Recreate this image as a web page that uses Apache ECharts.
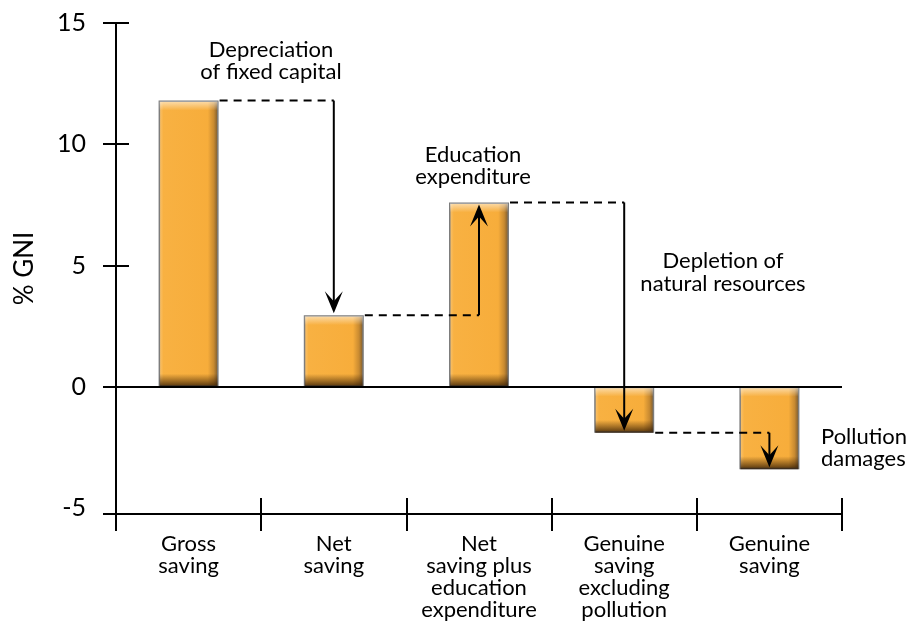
<!DOCTYPE html>
<html>
<head>
<meta charset="utf-8">
<script src="https://cdn.jsdelivr.net/npm/echarts@6/dist/echarts.min.js"></script>
<style>
html,body{margin:0;padding:0;background:#fff;}
#chart{width:906px;height:624px;}
</style>
</head>
<body>
<div id="chart"></div>
<script>
// ---- data ----
const categories = ['Gross\nsaving', 'Net\nsaving', 'Net\nsaving plus\neducation\nexpenditure', 'Genuine\nsaving\nexcluding\npollution', 'Genuine\nsaving'];
const values = [11.8, 2.95, 7.6, -1.9, -3.4];
const yTickLabels = [-5, 0, 5, 10, 15];
const annotations = ['Depreciation\nof fixed capital', 'Education\nexpenditure', 'Depletion of\nnatural resources', 'Pollution\ndamages'];
const yAxisName = '% GNI';

// ---- layout / style ----
const FONT = 'Lato, "Open Sans", sans-serif';
const BAR_W = 60;
const Y_MIN = -5.25, Y_MAX = 15;

const barData = values.map((v, i) => [i, v]);
const connectorData = values.slice(0, -1).map((v, i) => [i, v, i + 1, values[i + 1]]);

const chart = echarts.init(document.getElementById('chart'), null, {renderer: 'canvas'});

const commonY = {
  type: 'value', min: Y_MIN, max: Y_MAX, position: 'left',
  axisLine: {show: true, onZero: false, lineStyle: {color: '#000', width: 2}},
  splitLine: {show: false}
};
const commonX = {
  type: 'category', data: categories, position: 'bottom', boundaryGap: true,
  axisLine: {show: true, onZero: false, lineStyle: {color: '#000', width: 2}}
};

const option = {
  animation: false,
  backgroundColor: '#fff',
  grid: {left: 116, right: 64, top: 23, bottom: 110, containLabel: false},
  xAxis: [
    Object.assign({}, commonX, {
      axisTick: {show: true, inside: false, length: 17, lineStyle: {color: '#000', width: 2}},
      axisLabel: {show: true, color: '#000', fontFamily: FONT, fontSize: 22, lineHeight: 22, margin: 19, interval: 0}
    }),
    Object.assign({}, commonX, {
      axisTick: {show: true, inside: true, length: 16, lineStyle: {color: '#000', width: 2}},
      axisLabel: {show: false}
    })
  ],
  yAxis: [
    Object.assign({}, commonY, {
      name: yAxisName, nameLocation: 'middle', nameRotate: 90, nameGap: 78,
      nameTextStyle: {color: '#000', fontFamily: FONT, fontSize: 26},
      axisTick: {show: true, inside: false, length: 13, lineStyle: {color: '#000', width: 2},
                 customValues: [Y_MIN].concat(yTickLabels.slice(1))},
      axisLabel: {show: true, color: '#000', fontFamily: FONT, fontSize: 25, margin: 30,
                  customValues: yTickLabels}
    }),
    Object.assign({}, commonY, {
      axisTick: {show: true, inside: true, length: 13, lineStyle: {color: '#000', width: 2},
                 customValues: [Y_MIN].concat(yTickLabels.slice(1))},
      axisLabel: {show: false}
    })
  ],
  series: [
    {
      type: 'bar', xAxisIndex: 0, yAxisIndex: 0, z: 2,
      data: values, barWidth: BAR_W,
      itemStyle: {
        color: {type: 'linear', x: 0, y: 0, x2: 1, y2: 0, colorStops: [
          {offset: 0, color: '#F9C678'},
          {offset: 0.08, color: '#F8B142'},
          {offset: 0.82, color: '#F7AD3B'},
          {offset: 0.92, color: '#C88A31'},
          {offset: 1, color: '#6B5230'}
        ]},
        borderColor: '#7d7d7d', borderWidth: 1.5
      },
      markLine: {
        silent: true, symbol: ['none', 'none'], label: {show: false},
        lineStyle: {color: '#000', width: 2, type: 'solid'},
        data: [{yAxis: 0}]
      }
    },
    {
      type: 'custom', xAxisIndex: 0, yAxisIndex: 0, z: 3, silent: true,
      data: barData,
      renderItem: function (params, api) {
        const i = api.value(0), v = api.value(1);
        const c0 = api.coord([i, 0]), c1 = api.coord([i, v]);
        const top = Math.min(c0[1], c1[1]), h = Math.abs(c1[1] - c0[1]);
        const x = c0[0] - BAR_W / 2;
        const hl = Math.min(0.45, 9 / h), sh = Math.max(0.5, 1 - 13 / h);
        return {
          type: 'rect',
          shape: {x: x + 1, y: top + 1, width: BAR_W - 2, height: h - 1},
          style: {
            fill: {type: 'linear', x: 0, y: 0, x2: 0, y2: 1, colorStops: [
              {offset: 0, color: 'rgba(255,255,255,0.55)'},
              {offset: hl, color: 'rgba(255,255,255,0)'},
              {offset: sh, color: 'rgba(60,30,0,0)'},
              {offset: 1, color: 'rgba(40,20,0,0.8)'}
            ]}
          }
        };
      }
    },
    {
      type: 'custom', xAxisIndex: 0, yAxisIndex: 0, z: 5, silent: true,
      data: connectorData,
      encode: {x: [0, 2], y: [1, 3]},
      renderItem: function (params, api) {
        const fi = api.value(0), fv = api.value(1), ti = api.value(2), tv = api.value(3);
        const p0 = api.coord([fi, fv]);
        const p1 = api.coord([ti, fv]);
        const p2 = api.coord([ti, tv]);
        const dir = p2[1] > p1[1] ? 1 : -1;
        const x = p1[0];
        const tipY = p2[1] - dir * 2;
        return {
          type: 'group',
          children: [
            {type: 'line', shape: {x1: p0[0] + BAR_W / 2 + 1, y1: p0[1], x2: x, y2: p1[1]},
             style: {stroke: '#000', lineWidth: 2, lineDash: [8, 6]}},
            {type: 'line', shape: {x1: x, y1: p1[1], x2: x, y2: tipY - dir * 10},
             style: {stroke: '#000', lineWidth: 2}},
            {type: 'polygon', shape: {points: [[x, tipY], [x - 9, tipY - dir * 22], [x, tipY - dir * 12], [x + 9, tipY - dir * 22]]},
             style: {fill: '#000'}}
          ]
        };
      }
    }
  ],
  graphic: [
    {type: 'text', x: 271, y: 39, style: {text: annotations[0], font: '22px ' + FONT, fill: '#000', align: 'center', verticalAlign: 'top', lineHeight: 22}},
    {type: 'text', x: 473, y: 144, style: {text: annotations[1], font: '22px ' + FONT, fill: '#000', align: 'center', verticalAlign: 'top', lineHeight: 22}},
    {type: 'text', x: 723, y: 249, style: {text: annotations[2], font: '22px ' + FONT, fill: '#000', align: 'center', verticalAlign: 'top', lineHeight: 23}},
    {type: 'text', x: 821, y: 426, style: {text: annotations[3], font: '22px ' + FONT, fill: '#000', align: 'left', verticalAlign: 'top', lineHeight: 22}}
  ]
};

chart.setOption(option);
</script>
</body>
</html>
